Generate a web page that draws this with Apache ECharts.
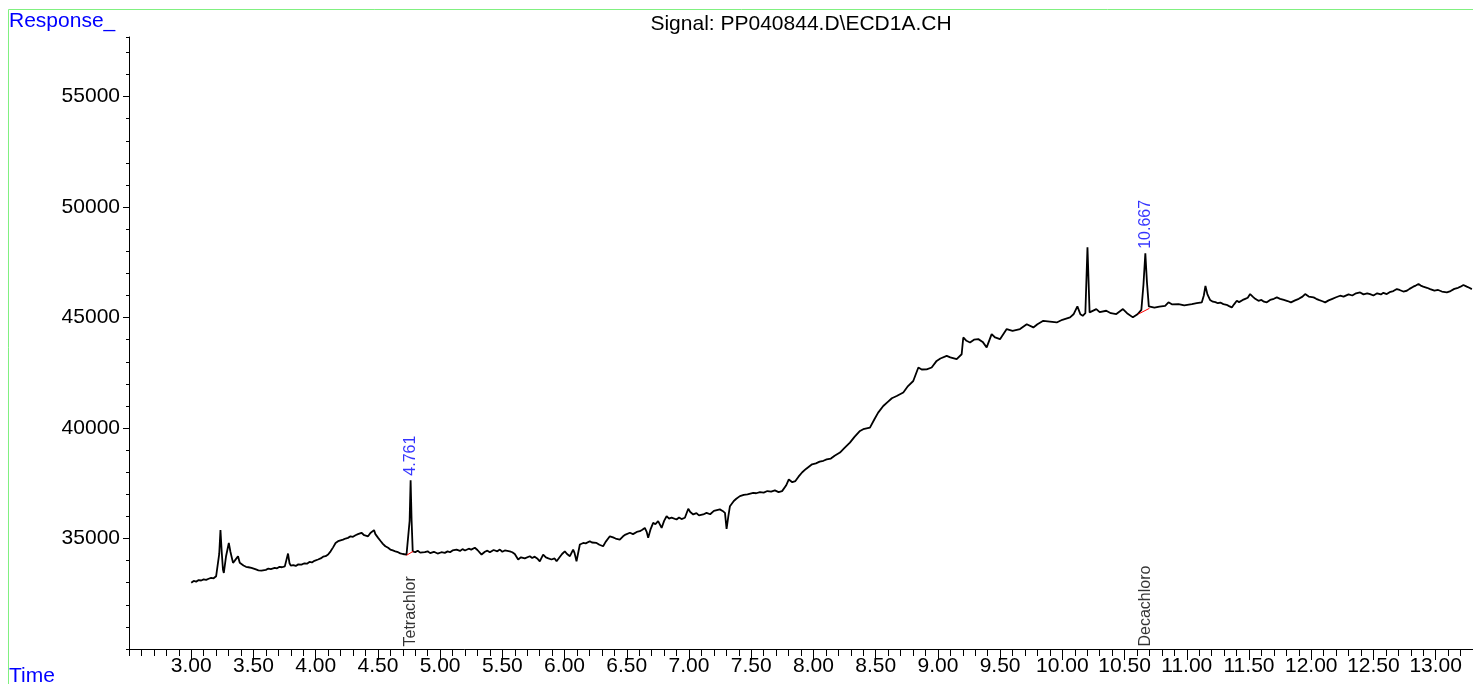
<!DOCTYPE html>
<html>
<head>
<meta charset="utf-8">
<script src="https://cdn.jsdelivr.net/npm/echarts@6/dist/echarts.min.js"></script>
<style>
html,body{margin:0;padding:0;background:#fff;}
#chart{width:1473px;height:684px;}
</style>
</head>
<body>
<div id="chart"></div>
<script>
// Retention time (min)
const times = [
3.000,3.02,3.04,3.06,3.08,3.10,3.12,3.14,3.16,3.18,3.20,3.21,
3.225,3.235,3.245,3.255,3.262,3.28,3.302,3.315,3.336,3.35,3.376,3.39,3.403,3.42,3.44,3.46,3.484,3.50,3.52,3.54,3.564,3.58,3.60,3.62,3.64,3.671,3.69,3.71,3.73,3.752,3.766,3.778,3.79,3.80,3.82,3.84,3.86,3.886,3.91,3.93,3.95,3.97,3.99,
4.019,4.04,4.06,4.08,4.10,4.12,4.14,4.16,4.18,4.20,4.22,4.24,4.26,4.28,4.30,4.32,4.34,4.368,4.39,4.421,4.44,4.469,4.48,4.502,4.52,4.54,4.56,4.582,4.60,4.62,4.64,4.662,4.68,4.70,4.73,4.745,4.755,4.763,4.771,4.780,4.80,4.82,4.84,4.877,4.90,4.92,4.95,4.98,
5.01,5.038,5.06,5.08,5.10,5.132,5.16,5.18,5.20,5.23,5.25,5.279,5.30,5.333,5.36,5.38,5.40,5.43,5.46,5.480,5.50,5.52,5.560,5.58,5.60,5.627,5.65,5.68,5.721,5.74,5.76,5.78,5.801,5.828,5.85,5.87,5.895,5.92,5.936,5.96,5.98,
6.002,6.02,6.043,6.069,6.08,6.096,6.123,6.15,6.17,6.203,6.22,6.257,6.28,6.31,6.33,6.364,6.39,6.41,6.444,6.47,6.49,6.525,6.55,6.58,6.605,6.625,6.645,6.660,6.672,6.69,6.712,6.73,6.752,6.780,6.80,6.820,6.84,6.86,6.900,6.92,6.94,6.967,6.994,
7.01,7.034,7.06,7.08,7.114,7.141,7.17,7.20,7.248,7.27,7.289,7.302,7.316,7.329,7.36,7.38,7.409,7.44,7.47,7.516,7.54,7.570,7.60,7.63,7.66,7.69,7.720,7.748,7.78,7.802,7.83,7.855,7.88,7.91,7.94,7.989,
8.02,8.05,8.08,8.106,8.14,8.17,8.213,8.25,8.293,8.33,8.374,8.40,8.454,8.49,8.52,8.561,8.60,8.63,8.669,8.722,8.76,8.802,8.843,8.87,8.910,8.950,8.990,
9.02,9.071,9.10,9.151,9.191,9.204,9.23,9.258,9.29,9.325,9.36,9.392,9.432,9.46,9.499,9.553,9.60,9.660,9.714,9.767,9.80,9.847,9.90,9.955,
10.00,10.062,10.09,10.121,10.145,10.164,10.185,10.202,10.219,10.273,10.30,10.353,10.39,10.434,10.487,10.52,10.567,10.604,10.635,10.652,10.667,10.680,10.695,10.74,10.78,10.826,10.853,10.88,10.934,10.98,
11.041,11.08,11.121,11.137,11.150,11.166,
11.187,11.21,11.23,11.25,11.27,11.294,11.32,11.34,11.362,11.38,11.402,11.42,11.45,11.47,11.49,11.509,11.53,11.55,11.576,11.60,11.62,11.643,11.67,11.70,11.724,11.75,11.78,11.81,11.837,11.87,11.90,11.93,11.951,11.98,
12.019,12.04,12.06,12.09,12.112,12.14,12.17,12.20,12.232,12.26,12.30,12.33,12.36,12.393,12.42,12.45,12.473,12.50,12.53,12.56,12.58,12.607,12.63,12.66,12.688,12.71,12.74,12.768,12.79,12.82,12.84,12.862,12.88,12.90,12.93,12.956,12.99,
13.02,13.05,13.090,13.12,13.15,13.18,13.20,13.223,13.25,13.27,13.291
];
// Detector response
const response = [
33000,33080,33050,33120,33100,33150,33130,33180,33220,33200,33290,33330,
34300,35380,34400,33600,33440,34200,34800,34400,33900,34000,34200,33900,33820,33780,33720,33700,33670,33620,33600,33560,33550,33600,33580,33640,33620,33670,33650,33720,33700,33740,33760,34320,33880,33775,33800,33760,33830,33820,33880,33860,33940,33920,33990,
34050,34100,34180,34200,34275,34420,34600,34800,34880,34920,34950,35000,35030,35100,35080,35150,35200,35260,35150,35100,35250,35380,35200,35030,34900,34760,34650,34580,34500,34460,34420,34380,34330,34300,34275,34300,35800,37640,35800,34420,34380,34450,34360,34380,34420,34340,34400,34320,
34380,34350,34420,34380,34460,34500,34440,34520,34460,34540,34500,34580,34480,34275,34400,34450,34380,34480,34420,34500,34400,34460,34420,34380,34300,34050,34150,34100,34200,34120,34180,34100,33970,34275,34150,34100,34050,34100,33970,34150,34300,
34420,34300,34200,34500,34350,33970,34730,34800,34780,34880,34820,34800,34720,34650,34850,35100,35050,35000,34950,35100,35180,35260,35200,35300,35330,35400,35480,35300,35030,35400,35710,35650,35790,35480,35800,36010,35900,35950,35860,35950,35880,35940,36350,
36200,36090,36150,36050,36090,36160,36100,36250,36320,36250,36160,35440,36000,36465,36700,36800,36920,36980,37000,37070,37050,37100,37080,37150,37120,37180,37100,37145,37400,37675,37550,37600,37800,38000,38150,38360,
38400,38480,38520,38580,38620,38750,38890,39100,39340,39600,39870,39950,40020,40400,40700,41000,41200,41350,41450,41610,41900,42130,42740,42650,42660,42740,43040,
43150,43270,43200,43120,43340,44100,43950,43875,44000,44025,43900,43650,44250,44100,44025,44480,44400,44480,44700,44555,44700,44855,44820,44780,
44900,45010,45150,45510,45150,45080,45200,48180,45235,45385,45250,45310,45200,45160,45385,45200,45010,45150,45350,46500,47910,46600,45510,45450,45500,45535,45690,45600,45610,45550,
45610,45650,45690,46000,46430,46050,
45800,45720,45700,45650,45680,45610,45580,45520,45460,45600,45760,45700,45800,45850,45900,46065,45950,45850,45760,45800,45720,45690,45800,45850,45915,45850,45800,45750,45690,45780,45850,45950,46065,45950,
45915,45850,45800,45740,45690,45780,45850,45920,45990,45950,46050,46000,46100,46140,46050,46100,46065,46000,46100,46050,46120,46065,46150,46200,46290,46250,46180,46215,46300,46400,46450,46520,46450,46400,46350,46290,46220,
46250,46180,46140,46200,46300,46350,46400,46475,46400,46350,46290
];
// Integration baselines (red)
const baseline1 = [[4.730, 34240], [4.783, 34420]];
const baseline2 = [[10.611, 45160], [10.700, 45420]];
// Peak retention-time labels
const peakTimes = [4.761, 10.667];
const peakHeights = [37640, 47910];
const peakLabels = ['4.761', '10.667'];
// Compound names
const compoundNames = ['Tetrachlor', 'Decachloro'];

const FONT = '"Liberation Sans", Arial, sans-serif';
const X_MIN = 2.5, X_MAX = 13.3, Y_MIN = 30000, Y_MAX = 57700;

const mainData = times.map((t, i) => [t, response[i]]);
const peakData = peakTimes.map((t, i) => ({ value: [t, peakHeights[i]], name: peakLabels[i] }));
const compData = peakTimes.map((t, i) => ({ value: [t, Y_MIN], name: compoundNames[i] }));

const chart = echarts.init(document.getElementById('chart'));
chart.setOption({
  animation: false,
  backgroundColor: '#ffffff',
  grid: { left: 129, right: 0, top: 37, bottom: 35, containLabel: false },
  graphic: [
    { type: 'rect', silent: true, z: -10,
      shape: { x: 8.5, y: 9.5, width: 1500, height: 700 },
      style: { fill: 'none', stroke: '#80f080', lineWidth: 1 } },
    { type: 'text', x: 9, y: 21,
      style: { text: 'Response_', fill: '#0000ff', font: '21px ' + FONT, verticalAlign: 'middle', align: 'left' } },
    { type: 'text', x: 9, y: 676,
      style: { text: 'Time', fill: '#0000ff', font: '21px ' + FONT, verticalAlign: 'middle', align: 'left' } },
    { type: 'text', x: 801, y: 24,
      style: { text: 'Signal: PP040844.D\\ECD1A.CH', fill: '#000000', font: '21px ' + FONT, verticalAlign: 'middle', align: 'center' } }
  ],
  xAxis: [
    { type: 'value', min: X_MIN, max: X_MAX, interval: 0.5, position: 'bottom',
      axisLine: { show: true, onZero: false, lineStyle: { color: '#000', width: 1 } },
      axisTick: { show: true, length: 11, lineStyle: { color: '#000' } },
      axisLabel: { show: true, color: '#000', fontSize: 21, fontFamily: FONT, margin: 7,
        showMinLabel: false, showMaxLabel: false,
        formatter: v => v.toFixed(2) },
      splitLine: { show: false } },
    { type: 'value', min: X_MIN, max: X_MAX, interval: 0.1, position: 'bottom', offset: 0,
      axisLine: { show: false, onZero: false },
      axisTick: { show: true, length: 7, lineStyle: { color: '#000' } },
      axisLabel: { show: false }, splitLine: { show: false } }
  ],
  yAxis: [
    { type: 'value', min: Y_MIN, max: Y_MAX, interval: 5000, position: 'left',
      axisLine: { show: true, onZero: false, lineStyle: { color: '#000', width: 1 } },
      axisTick: { show: true, length: 6, lineStyle: { color: '#000' } },
      axisLabel: { show: true, color: '#000', fontSize: 21, fontFamily: FONT, margin: 9,
        showMinLabel: false, showMaxLabel: false,
        formatter: v => String(Math.round(v)) },
      splitLine: { show: false } },
    { type: 'value', min: Y_MIN, max: Y_MAX, interval: 1000, position: 'left', offset: 0,
      axisLine: { show: false, onZero: false },
      axisTick: { show: true, length: 3, lineStyle: { color: '#000' } },
      axisLabel: { show: false }, splitLine: { show: false } }
  ],
  series: [
    { name: 'signal', type: 'line', data: mainData, xAxisIndex: 0, yAxisIndex: 0,
      showSymbol: false, symbol: 'none', smooth: false,
      lineStyle: { color: '#000', width: 1.8 }, z: 3 },
    { name: 'base1', type: 'line', data: baseline1, showSymbol: false, symbol: 'none',
      lineStyle: { color: '#ff0000', width: 1 }, z: 4 },
    { name: 'base2', type: 'line', data: baseline2, showSymbol: false, symbol: 'none',
      lineStyle: { color: '#ff0000', width: 1 }, z: 4 },
    { name: 'peaks', type: 'scatter', data: peakData, symbolSize: 1,
      itemStyle: { color: 'rgba(0,0,0,0)' },
      label: { show: true, position: 'top', distance: 4, rotate: 90, align: 'left', verticalAlign: 'middle',
        formatter: p => p.name, color: '#0000ff', fontSize: 16, fontFamily: FONT }, z: 5 },
    { name: 'compounds', type: 'scatter', data: compData, symbolSize: 1,
      itemStyle: { color: 'rgba(0,0,0,0)' },
      label: { show: true, position: 'top', distance: 2, rotate: 90, align: 'left', verticalAlign: 'middle',
        formatter: p => p.name, color: '#000', fontSize: 16, fontFamily: FONT }, z: 5 }
  ]
});
</script>
</body>
</html>
